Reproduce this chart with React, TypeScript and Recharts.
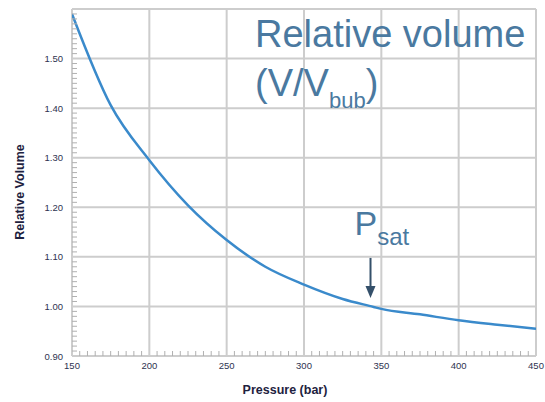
import React from "react";
import { LineChart, Line, XAxis, YAxis, CartesianGrid, ReferenceDot } from "recharts";

const pressures = [150, 175, 200, 225, 250, 275, 300, 325, 345, 350, 375, 400, 425, 450];
const relVolume = [1.59, 1.406, 1.295, 1.204, 1.134, 1.08, 1.044, 1.015, 0.999, 0.995, 0.984, 0.972, 0.963, 0.955];
const xMajor = [150, 200, 250, 300, 350, 400, 450];
const yMajor = [0.9, 1.0, 1.1, 1.2, 1.3, 1.4, 1.5, 1.6];
const yLabels = [0.9, 1.0, 1.1, 1.2, 1.3, 1.4, 1.5];
const psatPressure = 343;
const psatVolume = 0.999;

const xMinor: number[] = [];
for (let i = 0; i <= 60; i++) xMinor.push(150 + i * 5);
const yMinor: number[] = [];
for (let i = 0; i <= 70; i++) yMinor.push(Math.round((0.9 + i * 0.01) * 100) / 100);

const data = pressures.map((p, i) => ({ p, v: relVolume[i] }));

const W = 545;
const H = 402;
const TICK_FONT = "Liberation Sans, Arial, sans-serif";

const XTick = (props: any) => {
  const { x, y, payload } = props;
  const v = payload.value;
  const major = xMajor.includes(v);
  return (
    <g>
      {!major && <line x1={x} x2={x} y1={y} y2={y - 5} stroke="#b0b0b0" strokeWidth={1} />}
      {major && (
        <text x={x} y={y + 13} textAnchor="middle" fontSize={9.5} fontFamily={TICK_FONT} fill="#2e3350">
          {v}
        </text>
      )}
    </g>
  );
};

const YTick = (props: any) => {
  const { x, y, payload } = props;
  const v = payload.value;
  const hundred = Math.round(v * 100);
  const major = hundred % 10 === 0;
  const showLabel = yLabels.some((l) => Math.round(l * 100) === hundred);
  return (
    <g>
      {!major && <line x1={x} x2={x + 5} y1={y} y2={y} stroke="#b0b0b0" strokeWidth={1} />}
      {showLabel && (
        <text x={x - 9} y={y + 3.5} textAnchor="end" fontSize={9.5} fontFamily={TICK_FONT} fill="#2e3350">
          {v.toFixed(2)}
        </text>
      )}
    </g>
  );
};

const PsatMarker = (props: any) => {
  const { cx, cy } = props;
  const c = "#34506a";
  return (
    <g>
      <text x={cx - 16} y={cy - 72} fontSize={34} fontFamily={TICK_FONT} fill="#4a79a0">
        P
        <tspan fontSize={24} dy={10}>sat</tspan>
      </text>
      <line x1={cx} x2={cx} y1={cy - 49} y2={cy - 18} stroke={c} strokeWidth={2} />
      <polygon points={`${cx - 5},${cy - 21} ${cx + 5},${cy - 21} ${cx},${cy - 9}`} fill={c} />
    </g>
  );
};

export default function App() {
  return (
    <div
      style={{
        position: "fixed",
        left: 0,
        top: 0,
        width: W,
        height: H,
        overflow: "hidden",
        background: "#ffffff",
      }}
    >
      <LineChart
        width={W}
        height={H}
        data={data}
        margin={{ top: 9, right: 9, left: 0, bottom: 0 }}
      >
        <CartesianGrid
          stroke="#cdcdcd"
          strokeWidth={2}
          verticalValues={xMajor}
          horizontalValues={yMajor}
        />
        <XAxis
          dataKey="p"
          type="number"
          domain={[150, 450]}
          ticks={xMinor}
          interval={0}
          tickSize={0}
          tickMargin={0}
          tickLine={false}
          axisLine={false}
          tick={<XTick />}
          height={46}
          allowDataOverflow
        />
        <YAxis
          type="number"
          domain={[0.9, 1.6]}
          ticks={yMinor}
          interval={0}
          tickSize={0}
          tickMargin={0}
          tickLine={false}
          axisLine={false}
          tick={<YTick />}
          width={72}
          allowDataOverflow
        />
        <Line
          type="monotone"
          dataKey="v"
          stroke="#3a8acb"
          strokeWidth={2.5}
          dot={false}
          isAnimationActive={false}
        />
        <ReferenceDot x={psatPressure} y={psatVolume} r={0} shape={<PsatMarker />} />
      </LineChart>
      <svg
        width={W}
        height={H}
        style={{ position: "absolute", left: 0, top: 0, pointerEvents: "none" }}
      >
        <text x={255} y={47} fontSize={38} fontFamily={TICK_FONT} fill="#4a79a0">
          Relative volume
        </text>
        <text x={255} y={96} fontSize={38} fontFamily={TICK_FONT} fill="#4a79a0">
          (V/V
          <tspan fontSize={22} dy={12}>bub</tspan>
          <tspan dy={-12}>)</tspan>
        </text>
        <text
          x={285}
          y={394}
          textAnchor="middle"
          fontSize={12.5}
          fontWeight="bold"
          fontFamily={TICK_FONT}
          fill="#1e2240"
        >
          Pressure (bar)
        </text>
        <text
          transform="translate(24, 192) rotate(-90)"
          textAnchor="middle"
          fontSize={12.5}
          fontWeight="bold"
          fontFamily={TICK_FONT}
          fill="#1e2240"
        >
          Relative Volume
        </text>
      </svg>
    </div>
  );
}
